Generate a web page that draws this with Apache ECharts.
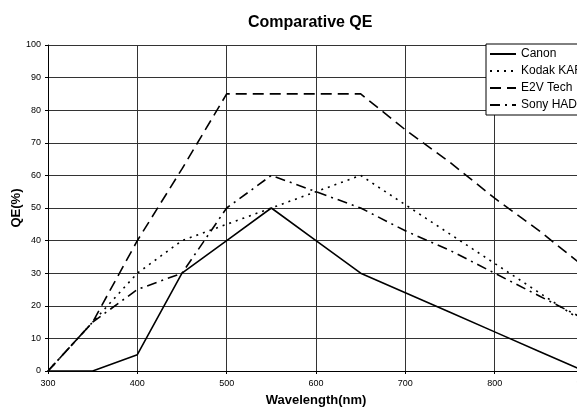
<!DOCTYPE html>
<html>
<head>
<meta charset="utf-8">
<script src="https://cdn.jsdelivr.net/npm/echarts@6/dist/echarts.min.js"></script>
<style>
  html, body { margin: 0; padding: 0; background: #fff; }
  #main { width: 577px; height: 408px; }
</style>
</head>
<body>
<div id="main"></div>
<script>
// wavelengths (nm) and QE (%) per sensor
var canonX = [300, 350, 400, 450, 500, 550, 600, 650, 700, 750, 800, 850, 900];
var canonY = [0, 0, 5, 30, 40, 50, 40, 30, 24, 18, 12, 6, 0];

var kodakX = [300, 350, 400, 450, 500, 550, 600, 650, 700, 750, 800, 850, 900];
var kodakY = [0, 15, 30, 40, 45, 50, 55, 60, 51, 42, 33, 24, 15];

var e2vX = [300, 350, 400, 450, 500, 550, 600, 650, 700, 750, 800, 850, 900];
var e2vY = [0, 15, 40, 62, 85, 85, 85, 85, 74, 64, 53, 43, 32];

var sonyX = [300, 350, 400, 450, 500, 550, 600, 650, 700, 750, 800, 850, 900];
var sonyY = [0, 15, 25, 30, 50, 60, 55, 50, 43, 37, 30, 23, 16];

var seriesNames = ['Canon', 'Kodak KAF', 'E2V Tech', 'Sony HAD'];

function pairs(xs, ys) {
    return xs.map(function (x, i) { return [x, ys[i]]; });
}

var myChart = echarts.init(document.getElementById('main'));

function lineSeries(name, data, type) {
    return {
        name: name,
        type: 'line',
        data: data,
        symbol: 'none',
        color: '#000',
        lineStyle: { color: '#000', width: 1.6, type: type }
    };
}

var option = {
    backgroundColor: '#fff',
    animation: false,
    title: {
        text: 'Comparative QE',
        left: 243,
        top: 10,
        textStyle: { fontFamily: 'Liberation Sans', fontSize: 16, fontWeight: 'bold', color: '#000' }
    },
    legend: {
        data: seriesNames,
        orient: 'vertical',
        left: 486,
        top: 44,
        itemWidth: 26,
        itemHeight: 10,
        itemGap: 5,
        padding: [4, 40, 4, 3],
        backgroundColor: '#fff',
        borderColor: '#000',
        borderWidth: 1,
        itemStyle: { opacity: 0 },
        textStyle: { fontFamily: 'Liberation Sans', fontSize: 12, color: '#000' }
    },
    grid: { left: 48, right: -7, top: 45, bottom: 37, outerBoundsMode: 'none' },
    xAxis: {
        type: 'value',
        min: 300,
        max: 900,
        interval: 100,
        name: 'Wavelength(nm)',
        nameLocation: 'middle',
        nameGap: 23,
        nameMoveOverlap: false,
        nameTextStyle: { fontFamily: 'Liberation Sans', fontSize: 13, fontWeight: 'bold', color: '#000' },
        axisLine: { lineStyle: { color: '#000', width: 1 } },
        axisTick: { show: true, length: 3, lineStyle: { color: '#000' } },
        axisLabel: { fontFamily: 'Liberation Sans', fontSize: 9, color: '#000', margin: 8, showMaxLabel: true, hideOverlap: false },
        splitLine: { show: true, lineStyle: { color: '#333', width: 1 } }
    },
    yAxis: {
        type: 'value',
        min: 0,
        max: 100,
        interval: 10,
        name: 'QE(%)',
        nameLocation: 'middle',
        nameGap: 25,
        nameMoveOverlap: false,
        nameTextStyle: { fontFamily: 'Liberation Sans', fontSize: 13, fontWeight: 'bold', color: '#000' },
        axisLine: { show: true, lineStyle: { color: '#000', width: 1 } },
        axisTick: { show: true, length: 3, lineStyle: { color: '#000' } },
        axisLabel: { fontFamily: 'Liberation Sans', fontSize: 9, color: '#000', margin: 7 },
        splitLine: { show: true, lineStyle: { color: '#333', width: 1 } }
    },
    series: [
        lineSeries(seriesNames[0], pairs(canonX, canonY), 'solid'),
        lineSeries(seriesNames[1], pairs(kodakX, kodakY), [2, 5]),
        lineSeries(seriesNames[2], pairs(e2vX, e2vY), [11, 6]),
        lineSeries(seriesNames[3], pairs(sonyX, sonyY), [10, 5, 2, 5])
    ]
};

myChart.setOption(option);
</script>
</body>
</html>
